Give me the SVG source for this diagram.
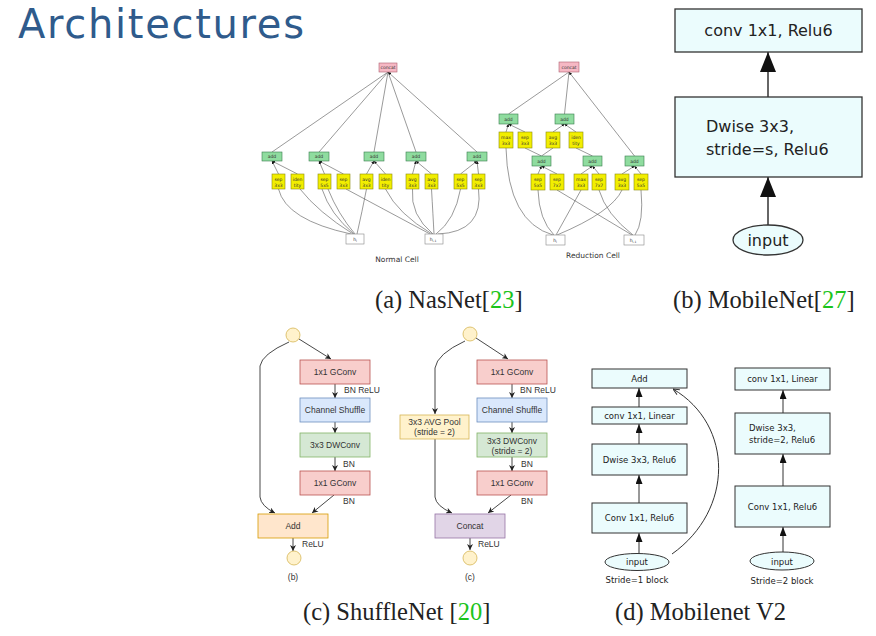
<svg xmlns="http://www.w3.org/2000/svg" width="876" height="636" viewBox="0 0 876 636">
<style>
.nl{fill:none;stroke:#555;stroke-width:0.6}
.nt{font-family:"DejaVu Sans",sans-serif;font-size:4.5px;fill:#333;text-anchor:middle}
.add{fill:#8fdc9f;stroke:#3b7d4f;stroke-width:0.6}
.yel{fill:#f2ee00;stroke:#8a8a10;stroke-width:0.6}
.cat{fill:#f6b8c4;stroke:#b06070;stroke-width:0.6}
.hb{fill:#fff;stroke:#888;stroke-width:0.6}
.cap{font-family:"Liberation Serif",serif;font-size:24.5px;fill:#222}
.grn{fill:#1cc41c}
.mb{fill:#ebfcfd;stroke:#333;stroke-width:1.3}
.mt{font-family:"DejaVu Sans",sans-serif;font-size:16px;fill:#222}
.m2{fill:#ebfcfd;stroke:#333;stroke-width:1}
.m2t{font-family:"DejaVu Sans",sans-serif;font-size:8.5px;fill:#222}
.st{font-family:"Liberation Sans",sans-serif;font-size:8.5px;fill:#333}
.sl{fill:none;stroke:#333;stroke-width:0.9}
.ml{fill:none;stroke:#333;stroke-width:1.5}
.ml2{fill:none;stroke:#333;stroke-width:1}
</style>
<defs>
<marker id="na" viewBox="0 0 10 10" refX="10" refY="5" markerWidth="3" markerHeight="3" markerUnits="userSpaceOnUse" orient="auto" preserveAspectRatio="none"><path d="M0,0L10,5L0,10z" fill="#111"/></marker>
<marker id="mb" viewBox="0 0 10 10" refX="10" refY="5" markerWidth="20" markerHeight="16" markerUnits="userSpaceOnUse" orient="auto" preserveAspectRatio="none"><path d="M0,0L10,5L0,10z" fill="#111"/></marker>
<marker id="m2" viewBox="0 0 10 10" refX="10" refY="5" markerWidth="9" markerHeight="7" markerUnits="userSpaceOnUse" orient="auto" preserveAspectRatio="none"><path d="M0,0L10,5L0,10z" fill="#111"/></marker>
<marker id="mo" viewBox="0 0 10 10" refX="10" refY="5" markerWidth="7" markerHeight="7" markerUnits="userSpaceOnUse" orient="auto" preserveAspectRatio="none"><path d="M1,1L10,5L1,9" fill="none" stroke="#333" stroke-width="1.3"/></marker>
<marker id="sh" viewBox="0 0 10 10" refX="10" refY="5" markerWidth="6" markerHeight="6" markerUnits="userSpaceOnUse" orient="auto" preserveAspectRatio="none"><path d="M0,0L10,5L0,10L3,5z" fill="#222"/></marker>
</defs>
<rect width="876" height="636" fill="#fff"/>
<text x="18" y="38" font-family="DejaVu Sans, sans-serif" font-size="40" fill="#2f5b8c" textLength="286" lengthAdjust="spacing">Architectures</text>

<!-- NasNet normal cell connectors -->
<g id="nas-normal-edges">
<path class="nl" marker-end="url(#na)" d="M272,152L388,72M319,152L388,72M374,152L388,72M416,152L388,72M477,152L388,72"/>
<path class="nl" marker-end="url(#na)" d="M278.5,174L272,161"/>
<path class="nl" marker-end="url(#na)" d="M297.5,174L272,161"/>
<path class="nl" marker-end="url(#na)" d="M324.5,174L319,161"/>
<path class="nl" marker-end="url(#na)" d="M343.5,174L319,161"/>
<path class="nl" marker-end="url(#na)" d="M366.5,174L374,161"/>
<path class="nl" marker-end="url(#na)" d="M385.5,174L374,161"/>
<path class="nl" marker-end="url(#na)" d="M412.5,174L416,161"/>
<path class="nl" marker-end="url(#na)" d="M431.5,174L416,161"/>
<path class="nl" marker-end="url(#na)" d="M460.5,174L477,161"/>
<path class="nl" marker-end="url(#na)" d="M478.5,174L477,161"/>
<path class="nl" d="M278.5,189Q286,220 351,234"/>
<path class="nl" d="M300,189Q318,212 353,234"/>
<path class="nl" d="M322,189Q330,214 354,234"/>
<path class="nl" d="M328,189Q338,214 355,234"/>
<path class="nl" d="M366.5,189Q362,212 357,234"/>
<path class="nl" d="M346,189L430,234"/>
<path class="nl" d="M385.5,189Q398,214 432,234"/>
<path class="nl" d="M412.5,189Q410,215 433,234"/>
<path class="nl" d="M431.5,189Q433,215 434,234"/>
<path class="nl" d="M460.5,189Q455,220 436,234"/>
<path class="nl" d="M478.5,189Q484,232 438,234"/>
</g>
<g id="nas-normal-nodes">
<g id="n-concat"><rect class="cat" x="379" y="63" width="18" height="9"/><text class="nt" x="388" y="69.3">concat</text></g>
<g id="n-add1"><rect class="add" x="262" y="152" width="20" height="9"/><text class="nt" x="272" y="158">add</text></g>
<g id="n-add2"><rect class="add" x="309" y="152" width="20" height="9"/><text class="nt" x="319" y="158">add</text></g>
<g id="n-add3"><rect class="add" x="364" y="152" width="20" height="9"/><text class="nt" x="374" y="158">add</text></g>
<g id="n-add4"><rect class="add" x="406" y="152" width="20" height="9"/><text class="nt" x="416" y="158">add</text></g>
<g id="n-add5"><rect class="add" x="467" y="152" width="20" height="9"/><text class="nt" x="477" y="158">add</text></g>
<g id="n-y1"><rect class="yel" x="272" y="174" width="13" height="15"/><text class="nt" x="278.5" y="180.5">sep</text><text class="nt" x="278.5" y="186.5">3x3</text></g>
<g id="n-y2"><rect class="yel" x="291" y="174" width="13" height="15"/><text class="nt" x="297.5" y="180.5">iden</text><text class="nt" x="297.5" y="186.5">tity</text></g>
<g id="n-y3"><rect class="yel" x="318" y="174" width="13" height="15"/><text class="nt" x="324.5" y="180.5">sep</text><text class="nt" x="324.5" y="186.5">5x5</text></g>
<g id="n-y4"><rect class="yel" x="337" y="174" width="13" height="15"/><text class="nt" x="343.5" y="180.5">sep</text><text class="nt" x="343.5" y="186.5">3x3</text></g>
<g id="n-y5"><rect class="yel" x="360" y="174" width="13" height="15"/><text class="nt" x="366.5" y="180.5">avg</text><text class="nt" x="366.5" y="186.5">3x3</text></g>
<g id="n-y6"><rect class="yel" x="379" y="174" width="13" height="15"/><text class="nt" x="385.5" y="180.5">iden</text><text class="nt" x="385.5" y="186.5">tity</text></g>
<g id="n-y7"><rect class="yel" x="406" y="174" width="13" height="15"/><text class="nt" x="412.5" y="180.5">avg</text><text class="nt" x="412.5" y="186.5">3x3</text></g>
<g id="n-y8"><rect class="yel" x="425" y="174" width="13" height="15"/><text class="nt" x="431.5" y="180.5">avg</text><text class="nt" x="431.5" y="186.5">3x3</text></g>
<g id="n-y9"><rect class="yel" x="454" y="174" width="13" height="15"/><text class="nt" x="460.5" y="180.5">sep</text><text class="nt" x="460.5" y="186.5">5x5</text></g>
<g id="n-y10"><rect class="yel" x="472" y="174" width="13" height="15"/><text class="nt" x="478.5" y="180.5">sep</text><text class="nt" x="478.5" y="186.5">3x3</text></g>
<g id="n-hi"><rect class="hb" x="346" y="234" width="18" height="10"/><text class="nt" x="355" y="240.5">h<tspan font-size="3" dy="1">i</tspan></text></g>
<g id="n-hi1"><rect class="hb" x="425" y="234" width="18" height="10"/><text class="nt" x="433" y="240.5">h<tspan font-size="3" dy="1">i-1</tspan></text></g>
<text x="397" y="262" font-family="DejaVu Sans, sans-serif" font-size="7.5" fill="#333" text-anchor="middle">Normal Cell</text>
</g>

<!-- NasNet reduction cell -->
<g id="nas-reduction-edges">
<path class="nl" marker-end="url(#na)" d="M508.5,114L569,72M564.5,114L569,72M634.5,156L569,72"/>
<path class="nl" marker-end="url(#na)" d="M506,132L508.5,124"/>
<path class="nl" marker-end="url(#na)" d="M525,132L508.5,124"/>
<path class="nl" marker-end="url(#na)" d="M553,132L564.5,124"/>
<path class="nl" marker-end="url(#na)" d="M576,132L564.5,124"/>
<path class="nl" marker-end="url(#na)" d="M538,174L541.5,166"/>
<path class="nl" marker-end="url(#na)" d="M557,174L541.5,166"/>
<path class="nl" marker-end="url(#na)" d="M581,174L592.5,166"/>
<path class="nl" marker-end="url(#na)" d="M599,174L592.5,166"/>
<path class="nl" marker-end="url(#na)" d="M622,174L634.5,166"/>
<path class="nl" marker-end="url(#na)" d="M641,174L634.5,166"/>
<path class="nl" d="M541.5,156L525,148M541.5,156L553,148M592.5,156L576,148"/>
<path class="nl" d="M506,148Q508,222 553,235"/>
<path class="nl" d="M538,190Q539,220 554,235"/>
<path class="nl" d="M557,190L632,235"/>
<path class="nl" d="M581,190L556,235"/>
<path class="nl" d="M599,190Q606,214 633,235"/>
<path class="nl" d="M622,190Q612,212 557,235"/>
<path class="nl" d="M641,190Q644,222 635,235"/>
</g>
<g id="nas-reduction-nodes">
<g id="r-concat"><rect class="cat" x="559" y="62" width="20" height="10"/><text class="nt" x="569" y="68.7">concat</text></g>
<g id="r-add1"><rect class="add" x="499" y="114" width="19" height="10"/><text class="nt" x="508.5" y="120.5">add</text></g>
<g id="r-add2"><rect class="add" x="555" y="114" width="19" height="10"/><text class="nt" x="564.5" y="120.5">add</text></g>
<g id="r-add3"><rect class="add" x="532" y="156" width="19" height="10"/><text class="nt" x="541.5" y="162.5">add</text></g>
<g id="r-add4"><rect class="add" x="583" y="156" width="19" height="10"/><text class="nt" x="592.5" y="162.5">add</text></g>
<g id="r-add5"><rect class="add" x="625" y="156" width="19" height="10"/><text class="nt" x="634.5" y="162.5">add</text></g>
<g id="r-y1"><rect class="yel" x="499" y="132" width="14" height="16"/><text class="nt" x="506" y="139">max</text><text class="nt" x="506" y="145">3x3</text></g>
<g id="r-y2"><rect class="yel" x="518" y="132" width="14" height="16"/><text class="nt" x="525" y="139">sep</text><text class="nt" x="525" y="145">3x3</text></g>
<g id="r-y3"><rect class="yel" x="546" y="132" width="14" height="16"/><text class="nt" x="553" y="139">avg</text><text class="nt" x="553" y="145">3x3</text></g>
<g id="r-y4"><rect class="yel" x="569" y="132" width="14" height="16"/><text class="nt" x="576" y="139">iden</text><text class="nt" x="576" y="145">tity</text></g>
<g id="r-y5"><rect class="yel" x="531" y="174" width="14" height="16"/><text class="nt" x="538" y="181">sep</text><text class="nt" x="538" y="187">5x5</text></g>
<g id="r-y6"><rect class="yel" x="550" y="174" width="14" height="16"/><text class="nt" x="557" y="181">sep</text><text class="nt" x="557" y="187">7x7</text></g>
<g id="r-y7"><rect class="yel" x="574" y="174" width="14" height="16"/><text class="nt" x="581" y="181">max</text><text class="nt" x="581" y="187">3x3</text></g>
<g id="r-y8"><rect class="yel" x="592" y="174" width="14" height="16"/><text class="nt" x="599" y="181">sep</text><text class="nt" x="599" y="187">7x7</text></g>
<g id="r-y9"><rect class="yel" x="615" y="174" width="14" height="16"/><text class="nt" x="622" y="181">avg</text><text class="nt" x="622" y="187">3x3</text></g>
<g id="r-y10"><rect class="yel" x="634" y="174" width="14" height="16"/><text class="nt" x="641" y="181">sep</text><text class="nt" x="641" y="187">5x5</text></g>
<g id="r-hi"><rect class="hb" x="546" y="235" width="19" height="10"/><text class="nt" x="555" y="241.5">h<tspan font-size="3" dy="1">i</tspan></text></g>
<g id="r-hi1"><rect class="hb" x="624" y="235" width="20" height="10"/><text class="nt" x="633" y="241.5">h<tspan font-size="3" dy="1">i-1</tspan></text></g>
<text x="593" y="258" font-family="DejaVu Sans, sans-serif" font-size="7.5" fill="#333" text-anchor="middle">Reduction Cell</text>
</g>

<text class="cap" x="375" y="308">(a) NasNet[<tspan class="grn">23</tspan>]</text>
<text class="cap" x="673" y="308">(b) MobileNet[<tspan class="grn">27</tspan>]</text>

<!-- MobileNet -->
<g id="mobilenet-edges">
<path class="ml" marker-end="url(#mb)" d="M768,97L768,52"/>
<path class="ml" marker-end="url(#mb)" d="M768,225L768,177"/>
</g>
<g id="mb-conv"><rect class="mb" x="675" y="9" width="187" height="43"/><text class="mt" x="768.5" y="36" text-anchor="middle">conv 1x1, Relu6</text></g>
<g id="mb-dwise"><rect class="mb" x="675" y="97" width="187" height="80"/><text class="mt" x="706" y="132">Dwise 3x3,</text><text class="mt" x="706" y="155">stride=s, Relu6</text></g>
<g id="mb-input"><ellipse class="mb" cx="768" cy="240" rx="35" ry="15"/><text class="mt" x="768" y="246" text-anchor="middle">input</text></g>

<!-- ShuffleNet (b) -->
<g id="shuffle-b-edges">
<path class="sl" marker-end="url(#sh)" d="M299,339L331,359"/>
<path class="sl" marker-end="url(#sh)" d="M289,342Q262,354 260,366L260,497Q261,506 275,513"/>
<path class="sl" marker-end="url(#sh)" d="M335,384L335,398"/>
<path class="sl" marker-end="url(#sh)" d="M335,422L335,433"/>
<path class="sl" marker-end="url(#sh)" d="M335,457L335,471"/>
<path class="sl" marker-end="url(#sh)" d="M334,495L312,513"/>
<path class="sl" marker-end="url(#sh)" d="M293,538L293,551"/>
</g>
<g id="sb-in"><circle cx="293" cy="335" r="7" fill="#fff2cc" stroke="#d6b656" stroke-width="0.8"/></g>
<g id="sb-g1"><rect x="300" y="360" width="70" height="24" fill="#f8cecc" stroke="#b85450" stroke-width="0.8"/><text class="st" x="335" y="375" text-anchor="middle">1x1 GConv</text></g>
<text class="st" x="344" y="393">BN ReLU</text>
<g id="sb-cs"><rect x="300" y="398" width="70" height="24" fill="#dae8fc" stroke="#6c8ebf" stroke-width="0.8"/><text class="st" x="335" y="413" text-anchor="middle">Channel Shuffle</text></g>
<g id="sb-dw"><rect x="300" y="433" width="70" height="24" fill="#d5e8d4" stroke="#82b366" stroke-width="0.8"/><text class="st" x="335" y="448" text-anchor="middle">3x3 DWConv</text></g>
<text class="st" x="343" y="467">BN</text>
<g id="sb-g2"><rect x="300" y="471" width="70" height="24" fill="#f8cecc" stroke="#b85450" stroke-width="0.8"/><text class="st" x="335" y="486" text-anchor="middle">1x1 GConv</text></g>
<text class="st" x="343" y="504">BN</text>
<g id="sb-add"><rect x="258" y="514" width="70" height="24" fill="#ffe6cc" stroke="#d79b00" stroke-width="0.8"/><text class="st" x="293" y="529" text-anchor="middle">Add</text></g>
<text class="st" x="302" y="547">ReLU</text>
<g id="sb-out"><circle cx="294" cy="558" r="7" fill="#fff2cc" stroke="#d6b656" stroke-width="0.8"/></g>
<text class="st" x="293" y="580" text-anchor="middle" font-size="7">(b)</text>

<!-- ShuffleNet (c) -->
<g id="shuffle-c-edges">
<path class="sl" marker-end="url(#sh)" d="M476,338L508,359"/>
<path class="sl" marker-end="url(#sh)" d="M465,341Q437,354 435,368L435,414"/>
<path class="sl" marker-end="url(#sh)" d="M435,439L435,497Q436,506 452,513"/>
<path class="sl" marker-end="url(#sh)" d="M512,384L512,398"/>
<path class="sl" marker-end="url(#sh)" d="M512,422L512,433"/>
<path class="sl" marker-end="url(#sh)" d="M512,457L512,471"/>
<path class="sl" marker-end="url(#sh)" d="M511,495L488,513"/>
<path class="sl" marker-end="url(#sh)" d="M470,538L470,550"/>
</g>
<g id="sc-in"><circle cx="470" cy="334" r="7" fill="#fff2cc" stroke="#d6b656" stroke-width="0.8"/></g>
<g id="sc-g1"><rect x="477" y="360" width="70" height="24" fill="#f8cecc" stroke="#b85450" stroke-width="0.8"/><text class="st" x="512" y="375" text-anchor="middle">1x1 GConv</text></g>
<text class="st" x="520" y="393">BN ReLU</text>
<g id="sc-cs"><rect x="477" y="398" width="70" height="24" fill="#dae8fc" stroke="#6c8ebf" stroke-width="0.8"/><text class="st" x="512" y="413" text-anchor="middle">Channel Shuffle</text></g>
<g id="sc-dw"><rect x="477" y="433" width="70" height="24" fill="#d5e8d4" stroke="#82b366" stroke-width="0.8"/><text class="st" x="512" y="444" text-anchor="middle">3x3 DWConv</text><text class="st" x="512" y="454" text-anchor="middle">(stride = 2)</text></g>
<text class="st" x="521" y="467">BN</text>
<g id="sc-g2"><rect x="477" y="471" width="70" height="24" fill="#f8cecc" stroke="#b85450" stroke-width="0.8"/><text class="st" x="512" y="486" text-anchor="middle">1x1 GConv</text></g>
<text class="st" x="521" y="504">BN</text>
<g id="sc-pool"><rect x="400" y="415" width="69" height="24" fill="#fff2cc" stroke="#d6b656" stroke-width="0.8"/><text class="st" x="434.5" y="425" text-anchor="middle">3x3 AVG Pool</text><text class="st" x="434.5" y="435" text-anchor="middle">(stride = 2)</text></g>
<g id="sc-concat"><rect x="435" y="514" width="70" height="24" fill="#e1d5e7" stroke="#9673a6" stroke-width="0.8"/><text class="st" x="470" y="529" text-anchor="middle">Concat</text></g>
<text class="st" x="478" y="547">ReLU</text>
<g id="sc-out"><circle cx="470" cy="558" r="7" fill="#fff2cc" stroke="#d6b656" stroke-width="0.8"/></g>
<text class="st" x="470" y="580" text-anchor="middle" font-size="7">(c)</text>

<!-- MobileNet V2 stride 1 -->
<g id="v2a-edges">
<path class="ml2" marker-end="url(#m2)" d="M639,554L639,533"/>
<path class="ml2" marker-end="url(#m2)" d="M639,503L639,475"/>
<path class="ml2" marker-end="url(#m2)" d="M639,444L639,424"/>
<path class="ml2" marker-end="url(#m2)" d="M639,407L639,388"/>
<path class="ml2" marker-end="url(#mo)" d="M672,554C734,510 734,425 673,389"/>
</g>
<g id="v2a-add"><rect class="m2" x="592" y="369" width="95" height="19"/><text class="m2t" x="639.5" y="381.5" text-anchor="middle">Add</text></g>
<g id="v2a-lin"><rect class="m2" x="592" y="407" width="95" height="17"/><text class="m2t" x="639.5" y="418.5" text-anchor="middle">conv 1x1, Linear</text></g>
<g id="v2a-dw"><rect class="m2" x="592" y="444" width="95" height="31"/><text class="m2t" x="639.5" y="462.5" text-anchor="middle">Dwise 3x3, Relu6</text></g>
<g id="v2a-conv"><rect class="m2" x="592" y="503" width="95" height="30"/><text class="m2t" x="639.5" y="521" text-anchor="middle">Conv 1x1, Relu6</text></g>
<g id="v2a-in"><ellipse class="m2" cx="637" cy="562" rx="32" ry="8.5"/><text class="m2t" x="637" y="565" text-anchor="middle">input</text></g>
<text class="m2t" x="637" y="583" text-anchor="middle">Stride=1 block</text>

<!-- MobileNet V2 stride 2 -->
<g id="v2b-edges">
<path class="ml2" marker-end="url(#m2)" d="M783,552L783,527"/>
<path class="ml2" marker-end="url(#m2)" d="M783,486L783,454"/>
<path class="ml2" marker-end="url(#m2)" d="M783,413L783,390"/>
</g>
<g id="v2b-lin"><rect class="m2" x="735" y="368" width="95" height="22"/><text class="m2t" x="782.5" y="382" text-anchor="middle">conv 1x1, Linear</text></g>
<g id="v2b-dw"><rect class="m2" x="735" y="413" width="95" height="41"/><text class="m2t" x="749" y="430.5">Dwise 3x3,</text><text class="m2t" x="749" y="443">stride=2, Relu6</text></g>
<g id="v2b-conv"><rect class="m2" x="735" y="486" width="95" height="41"/><text class="m2t" x="782.5" y="510" text-anchor="middle">Conv 1x1, Relu6</text></g>
<g id="v2b-in"><ellipse class="m2" cx="782" cy="561" rx="32" ry="9"/><text class="m2t" x="782" y="564.5" text-anchor="middle">input</text></g>
<text class="m2t" x="782" y="584" text-anchor="middle">Stride=2 block</text>

<text class="cap" x="303" y="620">(c) ShuffleNet [<tspan class="grn">20</tspan>]</text>
<text class="cap" x="615" y="620">(d) Mobilenet V2</text>
</svg>
